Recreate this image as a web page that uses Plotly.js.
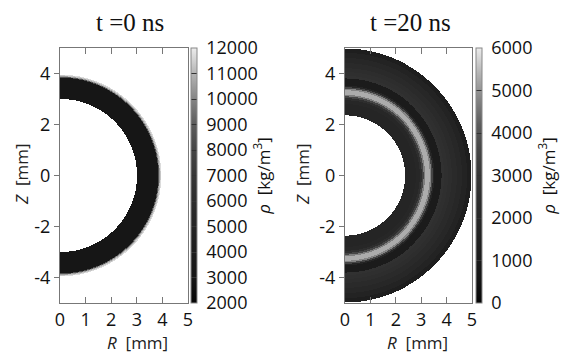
<!DOCTYPE html>
<html>
<head>
<meta charset="utf-8">
<script src="https://cdn.plot.ly/plotly-3.0.1.min.js"></script>
<style>html,body{margin:0;padding:0;background:#fff;}#chart{width:566px;height:360px;}</style>
</head>
<body>
<div id="chart"></div>
<script>
// ---- data ----
const panelTitles = ['t =0 ns', 't =20 ns'];
const rTicks = [0, 1, 2, 3, 4, 5];
const zTicks = [-4, -2, 0, 2, 4];
const zTickText = ['-4', '-2', '0', '2', '4'];
// t = 0 ns : radial density profile (bin edges in mm, density in kg/m3)
const r0Edges = [3.00, 3.83, 3.86, 3.89, 3.92, 3.95];
const rho0 = [3100, 8500, 10500, 11300, 11700];
// t = 20 ns : radial density profile
const r20Edges = [2.36, 2.60, 2.80, 2.95, 3.03, 3.10, 3.16, 3.34, 3.40, 3.46, 3.52, 3.80, 3.90, 4.05, 4.20, 4.40, 4.60, 4.80, 4.97];
const rho20 = [1850, 1900, 2000, 2500, 3600, 4700, 5300, 4800, 3600, 1800, 1100, 2700, 2600, 2450, 2250, 2000, 1700, 1350];
// colour bars
const cb0Vals = [2000, 3000, 4000, 5000, 6000, 7000, 8000, 9000, 10000, 11000, 12000];
const cb0Text = ['2000', '3000', '4000', '5000', '6000', '7000', '8000', '9000', '10000', '11000', '12000'];
const cb20Vals = [0, 1000, 2000, 3000, 4000, 5000, 6000];
const cb20Text = ['0', '1000', '2000', '3000', '4000', '5000', '6000'];

// ---- build grids from the radial profiles ----
const W = 566, H = 360;
const d = 5 / 256;
const xs = [], ys = [];
for (let i = 0; i < 256; i++) xs.push(+(d / 2 + i * d).toFixed(5));
for (let j = 0; j < 512; j++) ys.push(+(-5 + d / 2 + j * d).toFixed(5));
function grid(edges, vals) {
  const z = [];
  for (const y of ys) {
    const row = [];
    for (const x of xs) {
      const r = Math.hypot(x, y);
      let v = null;
      if (r >= edges[0] && r < edges[edges.length - 1]) {
        for (let k = 0; k < vals.length; k++) {
          if (r >= edges[k] && r < edges[k + 1]) { v = vals[k]; break; }
        }
      }
      row.push(v);
    }
    z.push(row);
  }
  return z;
}

const gray = [
  [0, '#050505'], [0.1, '#151515'], [0.2, '#1c1c1c'], [0.3, '#242424'],
  [0.4, '#2c2c2c'], [0.5, '#363636'], [0.6, '#454545'], [0.7, '#5c5c5c'],
  [0.8, '#858585'], [0.9, '#b4b4b4'], [1, '#ececec']
];

const px = v => v / W, py = v => 1 - v / H;
const tickFont = {family: 'Open Sans, sans-serif', size: 18, color: '#111'};
const nb = s => '\u00a0' + s;

function cbar(x, vals, text) {
  return {
    x: px(x), xanchor: 'left', xpad: 0,
    y: py(175.5), yanchor: 'middle', ypad: 0,
    len: 255, lenmode: 'pixels', thickness: 6,
    outlinewidth: 1, outlinecolor: '#888',
    ticks: 'inside', ticklen: 6, tickcolor: '#333', tickwidth: 1,
    tickvals: vals, ticktext: text.map(nb), tickfont: tickFont,
    title: {text: '<i>ρ</i>  [kg/m<sup>3</sup>]', side: 'right',
            font: {family: 'Open Sans, sans-serif', size: 17, color: '#111'}}
  };
}

const traces = [
  {type: 'heatmap', x: xs, y: ys, z: grid(r0Edges, rho0), zmin: 2000, zmax: 12000,
   colorscale: gray, xaxis: 'x', yaxis: 'y', hoverongaps: false,
   colorbar: cbar(191, cb0Vals, cb0Text)},
  {type: 'heatmap', x: xs, y: ys, z: grid(r20Edges, rho20), zmin: 0, zmax: 6000,
   colorscale: gray, xaxis: 'x2', yaxis: 'y2', hoverongaps: false,
   colorbar: cbar(476, cb20Vals, cb20Text)}
];

function xax(l, r, anchor) {
  return {domain: [px(l), px(r)], range: [0, 5], anchor: anchor,
    tickvals: rTicks, ticks: 'inside', ticklen: 6, tickcolor: '#777',
    showline: true, linecolor: '#777', linewidth: 1, mirror: 'ticks',
    showgrid: false, zeroline: false, tickfont: tickFont};
}
function yax(anchor) {
  return {domain: [py(303), py(48)], range: [-5, 5], anchor: anchor,
    tickvals: zTicks, ticktext: zTickText, ticks: 'outside', ticklen: 5, tickcolor: '#777',
    showline: true, linecolor: '#777', linewidth: 1, mirror: true,
    showgrid: false, zeroline: false, tickfont: tickFont};
}
function yRight(over, anchor) {
  return {overlaying: over, anchor: anchor, side: 'right', range: [-5, 5],
    tickvals: zTicks, ticks: 'inside', ticklen: 6, tickcolor: '#777',
    showticklabels: false, showline: false, showgrid: false, zeroline: false};
}

const serif = {family: 'Liberation Serif, Times New Roman, serif', size: 25, color: '#111'};
const lab = {family: 'Open Sans, sans-serif', size: 17, color: '#222'};
const ann = (x, y, text, font, angle) => ({xref: 'paper', yref: 'paper', x: px(x), y: py(y),
  xanchor: 'center', yanchor: 'middle', text: text, font: font, showarrow: false, textangle: angle || 0});

const layout = {
  width: W, height: H, margin: {l: 0, r: 0, t: 0, b: 0},
  paper_bgcolor: '#fff', plot_bgcolor: '#fff', showlegend: false,
  font: {family: 'Open Sans, sans-serif'},
  xaxis: xax(60, 188, 'y'), yaxis: yax('x'),
  xaxis2: xax(345, 472, 'y2'), yaxis2: yax('x2'),
  yaxis3: yRight('y', 'x'), yaxis4: yRight('y2', 'x2'),
  annotations: [
    ann(130, 22, panelTitles[0], serif),
    ann(410, 22, panelTitles[1], serif),
    ann(137, 342, '<i>R</i>  [mm]', lab),
    ann(417, 342, '<i>R</i>  [mm]', lab),
    ann(21, 175, '<i>Z</i>  [mm]', lab, -90),
    ann(302, 175, '<i>Z</i>  [mm]', lab, -90)
  ]
};

Plotly.newPlot('chart', traces, layout, {staticPlot: true, displayModeBar: false});
</script>
</body>
</html>
